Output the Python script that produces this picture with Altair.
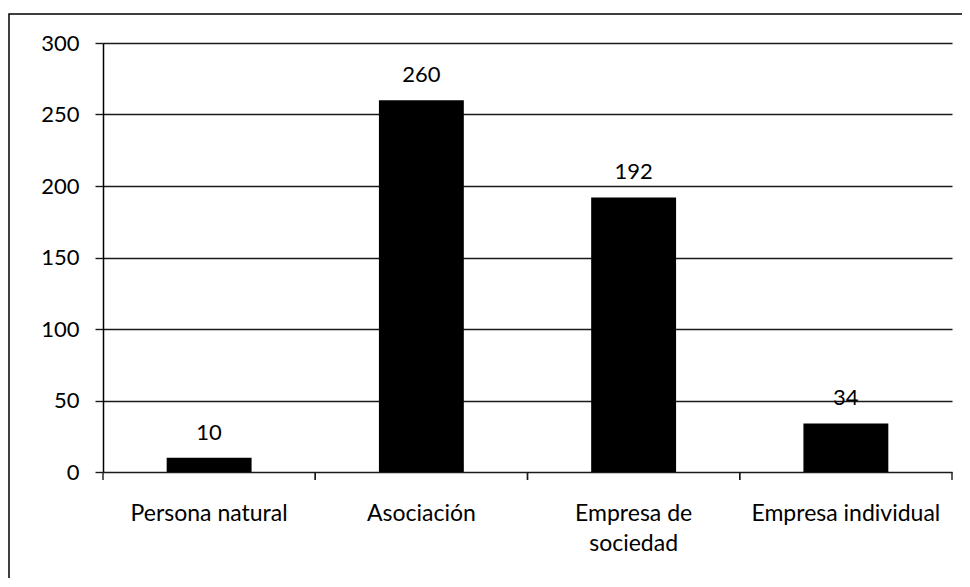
import altair as alt
import pandas as pd

categories = ["Persona natural", "Asociación", "Empresa de sociedad", "Empresa individual"]
values = [10, 260, 192, 34]
y_ticks = [0, 50, 100, 150, 200, 250, 300]

df = pd.DataFrame({"cat": categories, "val": values})

FONT = "Lato"
W, H = 849, 429

xscale = alt.Scale(domain=categories, paddingInner=0, paddingOuter=0)
yscale = alt.Scale(domain=[0, 300], nice=False)

base = alt.Chart(df)

bars = base.mark_bar(color="#000000", width=alt.RelativeBandSize(0.4)).encode(
    x=alt.X(
        "cat:N",
        scale=xscale,
        sort=categories,
        axis=alt.Axis(
            title=None,
            ticks=False,
            domain=False,
            labelAngle=0,
            labelFont=FONT,
            labelFontSize=23,
            labelColor="#000000",
            labelPadding=30,
            labelBaseline="top",
            labelLineHeight=30,
            labelLimit=400,
            labelExpr="datum.value == 'Empresa de sociedad' ? ['Empresa de', 'sociedad'] : datum.value",
        ),
    ),
    y=alt.Y(
        "val:Q",
        scale=yscale,
        axis=alt.Axis(
            title=None,
            values=y_ticks,
            grid=True,
            gridColor="#1a1a1a",
            gridWidth=1.4,
            gridOpacity=1,
            domain=True,
            domainColor="#000000",
            domainWidth=1.5,
            ticks=True,
            tickSize=8,
            tickColor="#1a1a1a",
            tickWidth=1.4,
            labelFont=FONT,
            labelFontSize=22,
            labelColor="#000000",
            labelPadding=16,
        ),
    ),
)

labels = base.mark_text(font=FONT, fontSize=22, color="#000000", dy=-18, baseline="alphabetic").encode(
    x=alt.X("cat:N", scale=xscale, sort=categories),
    y=alt.Y("val:Q", scale=yscale),
    text=alt.Text("val:Q"),
)

ticks_left = base.mark_rule(color="#1a1a1a", strokeWidth=1.4).encode(
    x=alt.X("cat:N", scale=xscale, sort=categories, bandPosition=0),
    y=alt.value(H),
    y2=alt.value(H + 8),
)
ticks_right = base.mark_rule(color="#1a1a1a", strokeWidth=1.4).encode(
    x=alt.X("cat:N", scale=xscale, sort=categories, bandPosition=1),
    y=alt.value(H),
    y2=alt.value(H + 8),
)

frame = alt.Chart(pd.DataFrame({"f": [0]})).mark_rect(
    fill=None, stroke="#000000", strokeWidth=1.5, clip=False
).encode(
    x=alt.value(-94),
    x2=alt.value(W + 40),
    y=alt.value(-29),
    y2=alt.value(H + 200),
)

chart = alt.layer(frame, bars, labels, ticks_left, ticks_right).properties(
    width=W,
    height=H,
    autosize=alt.AutoSizeParams(type="none"),
    padding={"left": 95, "top": 35, "right": 10, "bottom": 106},
    background="#ffffff",
).configure_view(stroke=None)

chart.save("out.html", embed_options={"renderer": "svg", "actions": False})
